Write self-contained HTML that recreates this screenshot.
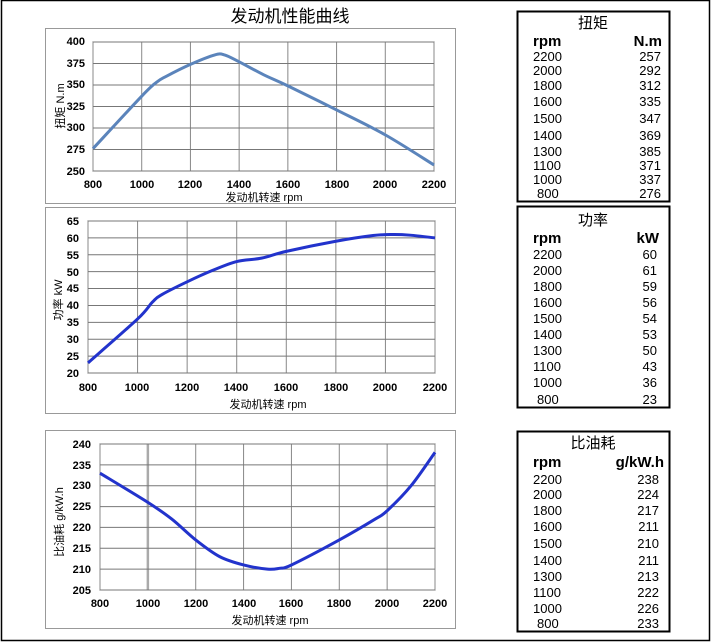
<!DOCTYPE html>
<html><head><meta charset="utf-8"><style>
html,body{margin:0;padding:0;background:#fff;}
body{width:713px;height:643px;overflow:hidden;}
svg{display:block;}
text{font-family:"Liberation Sans","Noto Sans CJK SC",sans-serif;}
.t{font-size:11px;font-weight:bold;fill:#000;}
.tb{font-size:13px;fill:#000;}
.th{font-size:15px;font-weight:bold;fill:#000;}
.ax{font-size:11px;fill:#000;}
</style></head><body>
<svg id="s" width="713" height="643" viewBox="0 0 713 643" xmlns="http://www.w3.org/2000/svg">
<rect x="1.5" y="0.5" width="708" height="640" fill="none" stroke="#000" stroke-width="1.5"/>
<text x="290" y="22" text-anchor="middle" style="font-size:17px">发动机性能曲线</text>

<!-- frames -->
<rect x="45.5" y="28.5" width="410" height="175" fill="#fff" stroke="#999"/>
<rect x="45.5" y="207.5" width="410" height="206" fill="#fff" stroke="#999"/>
<rect x="45.5" y="430.5" width="410" height="198" fill="#fff" stroke="#999"/>
<g id="g"></g>

<!-- chart1 labels -->
<g class="t" text-anchor="end">
<text x="85" y="45">400</text><text x="85" y="67">375</text><text x="85" y="88">350</text><text x="85" y="110">325</text><text x="85" y="131">300</text><text x="85" y="153">275</text><text x="85" y="175">250</text>
</g>
<g class="t" text-anchor="middle">
<text x="93" y="188">800</text><text x="142" y="188">1000</text><text x="190" y="188">1200</text><text x="239" y="188">1400</text><text x="288" y="188">1600</text><text x="337" y="188">1800</text><text x="385" y="188">2000</text><text x="434" y="188">2200</text>
</g>
<text x="264" y="201" class="ax" text-anchor="middle">发动机转速 rpm</text>
<text transform="translate(64,106) rotate(-90)" class="ax" text-anchor="middle">扭矩 N.m</text>

<!-- chart2 labels -->
<g class="t" text-anchor="end">
<text x="79" y="225">65</text><text x="79" y="242">60</text><text x="79" y="259">55</text><text x="79" y="276">50</text><text x="79" y="292">45</text><text x="79" y="309">40</text><text x="79" y="326">35</text><text x="79" y="343">30</text><text x="79" y="360">25</text><text x="79" y="377">20</text>
</g>
<g class="t" text-anchor="middle">
<text x="88" y="391">800</text><text x="137" y="391">1000</text><text x="187" y="391">1200</text><text x="236" y="391">1400</text><text x="286" y="391">1600</text><text x="336" y="391">1800</text><text x="385" y="391">2000</text><text x="435" y="391">2200</text>
</g>
<text x="268" y="408" class="ax" text-anchor="middle">发动机转速 rpm</text>
<text transform="translate(62,300) rotate(-90)" class="ax" text-anchor="middle">功率 kW</text>

<!-- chart3 labels -->
<g class="t" text-anchor="end">
<text x="91" y="448">240</text><text x="91" y="469">235</text><text x="91" y="489">230</text><text x="91" y="510">225</text><text x="91" y="531">220</text><text x="91" y="552">215</text><text x="91" y="573">210</text><text x="91" y="594">205</text>
</g>
<g class="t" text-anchor="middle">
<text x="100" y="607">800</text><text x="148" y="607">1000</text><text x="196" y="607">1200</text><text x="244" y="607">1400</text><text x="291" y="607">1600</text><text x="339" y="607">1800</text><text x="387" y="607">2000</text><text x="435" y="607">2200</text>
</g>
<text x="270" y="624" class="ax" text-anchor="middle">发动机转速 rpm</text>
<text transform="translate(63,522) rotate(-90)" class="ax" text-anchor="middle">比油耗 g/kW.h</text>

<!-- tables -->
<rect x="517.5" y="11.5" width="152" height="190" fill="none" stroke="#000" stroke-width="2"/>
<rect x="517.5" y="206.5" width="152" height="201" fill="none" stroke="#000" stroke-width="2"/>
<rect x="517.5" y="431.5" width="152" height="200" fill="none" stroke="#000" stroke-width="2"/>

<text x="593" y="28" class="tb" style="font-size:15px" text-anchor="middle">扭矩</text>
<text x="533" y="46" class="th">rpm</text><text x="662" y="46" class="th" text-anchor="end">N.m</text>
<g class="tb">
<text x="533" y="61">2200</text><text x="533" y="75">2000</text><text x="533" y="90">1800</text><text x="533" y="106">1600</text><text x="533" y="123">1500</text><text x="533" y="140">1400</text><text x="533" y="156">1300</text><text x="533" y="170">1100</text><text x="533" y="184">1000</text><text x="537" y="198">800</text>
</g>
<g class="tb" text-anchor="end">
<text x="661" y="61">257</text><text x="661" y="75">292</text><text x="661" y="90">312</text><text x="661" y="106">335</text><text x="661" y="123">347</text><text x="661" y="140">369</text><text x="661" y="156">385</text><text x="661" y="170">371</text><text x="661" y="184">337</text><text x="661" y="198">276</text>
</g>

<text x="593" y="225" class="tb" style="font-size:15px" text-anchor="middle">功率</text>
<text x="533" y="243" class="th">rpm</text><text x="659" y="243" class="th" text-anchor="end">kW</text>
<g class="tb">
<text x="533" y="259">2200</text><text x="533" y="275">2000</text><text x="533" y="291">1800</text><text x="533" y="307">1600</text><text x="533" y="323">1500</text><text x="533" y="339">1400</text><text x="533" y="355">1300</text><text x="533" y="371">1100</text><text x="533" y="387">1000</text><text x="537" y="404">800</text>
</g>
<g class="tb" text-anchor="end">
<text x="657" y="259">60</text><text x="657" y="275">61</text><text x="657" y="291">59</text><text x="657" y="307">56</text><text x="657" y="323">54</text><text x="657" y="339">53</text><text x="657" y="355">50</text><text x="657" y="371">43</text><text x="657" y="387">36</text><text x="657" y="404">23</text>
</g>

<text x="593" y="448" class="tb" style="font-size:15px" text-anchor="middle">比油耗</text>
<text x="533" y="467" class="th">rpm</text><text x="664" y="467" class="th" text-anchor="end">g/kW.h</text>
<g class="tb">
<text x="533" y="484">2200</text><text x="533" y="499">2000</text><text x="533" y="515">1800</text><text x="533" y="531">1600</text><text x="533" y="548">1500</text><text x="533" y="565">1400</text><text x="533" y="581">1300</text><text x="533" y="597">1100</text><text x="533" y="613">1000</text><text x="537" y="628">800</text>
</g>
<g class="tb" text-anchor="end">
<text x="659" y="484">238</text><text x="659" y="499">224</text><text x="659" y="515">217</text><text x="659" y="531">211</text><text x="659" y="548">210</text><text x="659" y="565">211</text><text x="659" y="581">213</text><text x="659" y="597">222</text><text x="659" y="613">226</text><text x="659" y="628">233</text>
</g>
</svg>
<script>
(function(){
var NS="http://www.w3.org/2000/svg",g=document.getElementById("g");
function el(n,a){var e=document.createElementNS(NS,n);for(var k in a)e.setAttribute(k,a[k]);g.appendChild(e);return e;}
function chart(x0,x1,y0,y1,vmin,vmax,vstep,data,color,thick1000){
  el("rect",{x:x0,y:y0,width:x1-x0,height:y1-y0,fill:"#fff",stroke:"#555","stroke-width":1});
  for(var r=800;r<=2200;r+=200){var x=x0+(r-800)/1400*(x1-x0);
    el("line",{x1:x,x2:x,y1:y0,y2:y1,stroke:(thick1000&&r==1000)?"#aaa":"#888","stroke-width":(thick1000&&r==1000)?2.5:1});}
  for(var v=vmin;v<=vmax+1e-9;v+=vstep){var y=y1-(v-vmin)/(vmax-vmin)*(y1-y0);
    el("line",{x1:x0,x2:x1,y1:y,y2:y,stroke:"#777","stroke-width":1});}
  var P=data.map(function(d){return [x0+(d[0]-800)/1400*(x1-x0), y1-(d[1]-vmin)/(vmax-vmin)*(y1-y0)];});
  var s="M"+P[0][0]+","+P[0][1];
  for(var i=0;i<P.length-1;i++){var p0=P[i-1]||P[i],p1=P[i],p2=P[i+1],p3=P[i+2]||p2;
    var c1=[p1[0]+(p2[0]-p0[0])/6,p1[1]+(p2[1]-p0[1])/6],c2=[p2[0]-(p3[0]-p1[0])/6,p2[1]-(p3[1]-p1[1])/6];
    s+=" C"+c1+" "+c2+" "+p2;}
  el("path",{d:s,fill:"none",stroke:color,"stroke-width":3,"stroke-linejoin":"round"});
}
chart(93,434,42,171,250,400,25,[[800,276],[1000,337],[1060,353],[1100,360],[1200,374],[1300,385],[1340,385],[1400,377],[1500,362],[1600,349],[1800,321],[2000,292],[2200,257]],"#5b84bb");
chart(88,435,221,373,20,65,5,[[800,23],[1000,36],[1060,41],[1100,43.3],[1200,47],[1300,50.3],[1400,53],[1500,54],[1600,56],[1800,59],[1950,60.7],[2030,61],[2100,60.8],[2200,60]],"#2233cc");
chart(100,435,444,590,205,240,5,[[800,233],[1000,226],[1100,222],[1200,217],[1300,213],[1400,211],[1500,210],[1550,210.2],[1600,211],[1800,217],[1950,222],[2000,224],[2100,230],[2200,238]],"#2233cc",true);
})();
</script>
</body></html>
